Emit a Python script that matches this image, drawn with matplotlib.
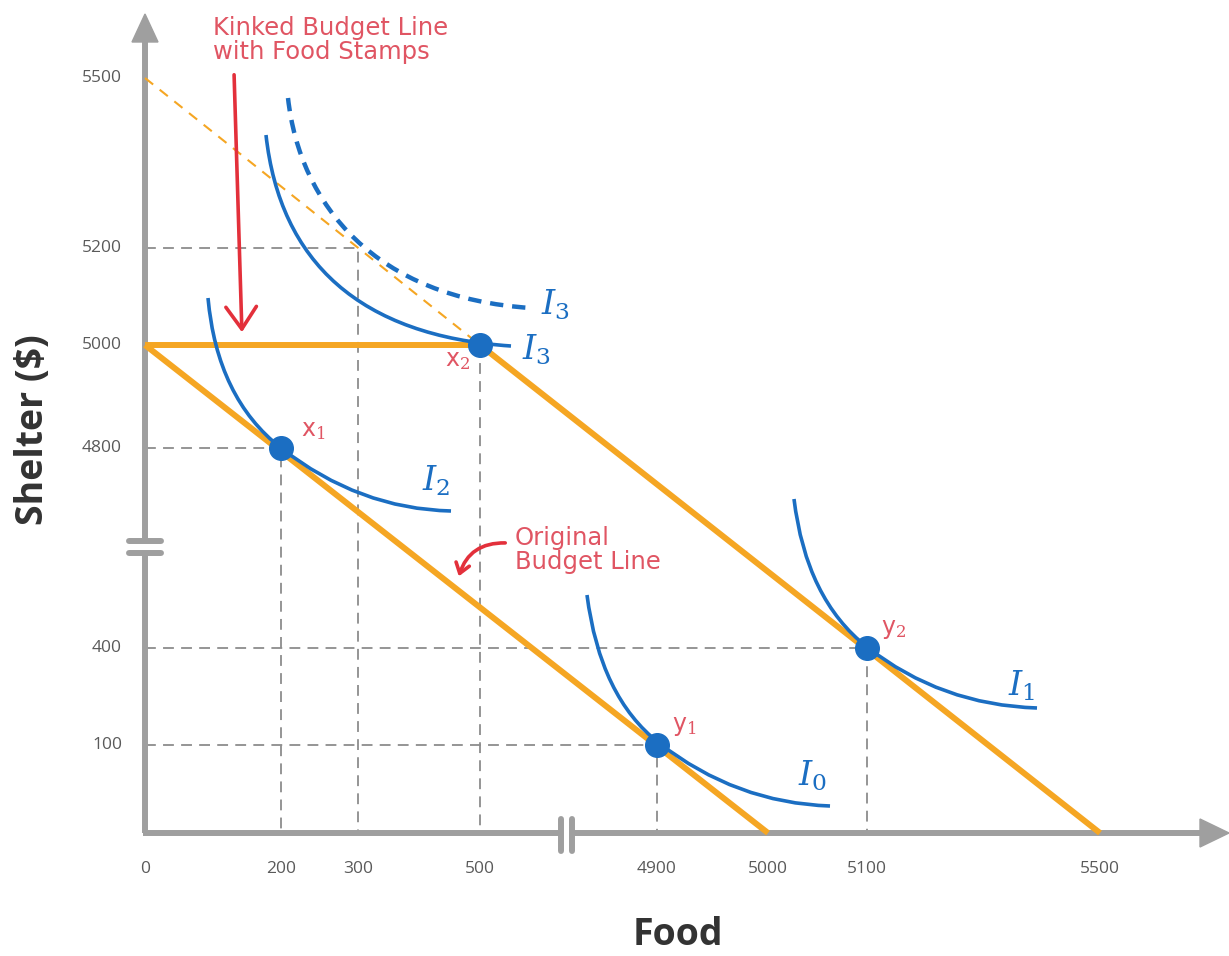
import matplotlib.pyplot as plt
from matplotlib.path import Path
from matplotlib.patches import PathPatch, Polygon

# axis values (schematic, broken axes)
food_ticks = [0, 200, 300, 500, 4900, 5000, 5100, 5500]
shelter_ticks = [0, 100, 400, 4800, 5000, 5200, 5500]
shelter_labels = ["", "100", "400", "4800", "5000", "5200", "5500"]

# where each tick value sits on the drawing
food_pos = [145, 281, 358, 480, 657, 768, 867, 1100]
shelter_pos = [833, 745, 648, 448, 345, 248, 78]

# budget lines (food, shelter)
original_line = [(0, 5000), (5000, 0)]
kinked_line = [(0, 5000), (500, 5000), (5500, 0)]
old_extension = [(0, 5500), (500, 5000)]

# optimal bundles
bundles = {"x$_1$": (200, 4800), "x$_2$": (500, 5000), "y$_1$": (4900, 100), "y$_2$": (5100, 400)}
guide_pts = [(200, 4800), (300, 5200), (4900, 100), (5100, 400)]

# colours
orange = "#F5A623"
blue = "#1B6EC2"
grey = "#9F9F9F"
red_txt = "#E05563"
red_arr = "#E3303B"

plt.rcParams["mathtext.fontset"] = "dejavuserif"


def fx(v):
    return food_pos[food_ticks.index(v)]


def fy(v):
    return shelter_pos[shelter_ticks.index(v)]


fig = plt.figure(figsize=(12.29, 9.56), dpi=100)
ax = fig.add_axes([0, 0, 1, 1])
ax.set_xlim(0, 1229)
ax.set_ylim(956, 0)
ax.axis("off")

x0, y0 = fx(0), fy(0)

# axes with breaks
ax.plot([x0, x0], [y0, 554], color=grey, lw=4.3, solid_capstyle="butt", zorder=2)
ax.plot([x0, x0], [540, 38], color=grey, lw=4.3, solid_capstyle="butt", zorder=2)
ax.plot([x0 - 2, 561], [y0, y0], color=grey, lw=4.3, solid_capstyle="butt", zorder=2)
ax.plot([572, 1204], [y0, y0], color=grey, lw=4.3, solid_capstyle="butt", zorder=2)
for yb in [541, 553]:
    ax.plot([129, 161], [yb, yb], color=grey, lw=4.3, solid_capstyle="round", zorder=2)
for xb in [561, 572]:
    ax.plot([xb, xb], [819, 851], color=grey, lw=4.3, solid_capstyle="round", zorder=2)
ax.add_patch(Polygon([[x0 - 13, 42], [x0 + 13, 42], [x0, 14]], closed=True, color=grey, zorder=2))
ax.add_patch(Polygon([[1200, y0 - 14], [1200, y0 + 14], [1229, y0]], closed=True, color=grey, zorder=2))

# tick labels
for v, p in zip(food_ticks, food_pos):
    ax.text(p, 869, str(v), ha="center", va="center", fontsize=12.5, color="#5A5A5A", family="Open Sans")
for lab, p in zip(shelter_labels, shelter_pos):
    if lab:
        ax.text(122, p, lab, ha="right", va="center", fontsize=12.5, color="#5A5A5A", family="Open Sans")

ax.text(678, 935, "Food", ha="center", va="center", fontsize=27, fontweight="bold", color="#333333", family="Open Sans")
ax.text(33, 430, "Shelter ($)", ha="center", va="center", rotation=90, fontsize=27, fontweight="bold", color="#333333", family="Open Sans")

# dashed guides
for fv, sv in guide_pts:
    ax.plot([x0, fx(fv), fx(fv)], [fy(sv), fy(sv), y0], color="#8C8C8C", lw=1.3, ls=(0, (6, 4)), zorder=1)
ax.plot([fx(500), fx(500)], [fy(5000), y0], color="#8C8C8C", lw=1.3, ls=(0, (6, 4)), zorder=1)

# budget lines
for line in [original_line, kinked_line]:
    ax.plot([fx(a) for a, b in line], [fy(b) for a, b in line], color=orange, lw=4.3, zorder=3,
            solid_capstyle="butt")
ax.plot([fx(a) for a, b in old_extension], [fy(b) for a, b in old_extension], color=orange, lw=1.5,
        ls=(0, (5, 4)), zorder=3)

# indifference curves (bezier control points on the drawing)
curves = {
    "I2": [(208, 298), (217, 398), (281, 448), (359, 509), (451, 511)],
    "I0": [(587, 595), (600, 697), (659, 743), (736, 803), (830, 806)],
    "I1": [(794, 499), (806, 599), (867, 647), (941, 705), (1037, 708)],
}
for pts in curves.values():
    codes = [Path.MOVETO, Path.CURVE3, Path.CURVE3, Path.CURVE3, Path.CURVE3]
    ax.add_patch(PathPatch(Path(pts, codes), fill=False, ec=blue, lw=2.6, zorder=4))

i3_solid = [(266, 135), (280, 262), (360, 336), (511, 346)]
i3_dash = [(288, 98), (300, 205), (375, 298), (531, 308)]
c4 = [Path.MOVETO, Path.CURVE4, Path.CURVE4, Path.CURVE4]
ax.add_patch(PathPatch(Path(i3_solid, c4), fill=False, ec=blue, lw=2.6, zorder=4))
ax.add_patch(PathPatch(Path(i3_dash, c4), fill=False, ec=blue, lw=3.2, ls=(0, (3, 2)), zorder=4))

# curve labels
for lab, tx, ty in [("$I_3$", 555, 305), ("$I_3$", 536, 350), ("$I_2$", 436, 481),
                    ("$I_1$", 1022, 686), ("$I_0$", 813, 776)]:
    ax.text(tx, ty, lab, ha="center", va="center", fontsize=24, color=blue)

# bundles
for lab, (fv, sv) in bundles.items():
    ax.plot(fx(fv), fy(sv), "o", ms=17, color=blue, zorder=6)
offsets = {"x$_1$": (32, -18), "x$_2$": (-22, 15), "y$_1$": (27, -19), "y$_2$": (27, -19)}
for lab, (fv, sv) in bundles.items():
    dx, dy = offsets[lab]
    ax.text(fx(fv) + dx, fy(sv) + dy, lab, ha="center", va="center", fontsize=17, color=red_txt)

# annotations
ax.text(213, 16, "Kinked Budget Line\nwith Food Stamps", ha="left", va="top", fontsize=17.5,
        color=red_txt, family="DejaVu Sans", linespacing=1.0)
ax.annotate("", xy=(242, 335), xytext=(234, 72),
            arrowprops=dict(arrowstyle="->,head_length=1.6,head_width=1.1", color=red_arr, lw=2.6))
ax.text(515, 526, "Original\nBudget Line", ha="left", va="top", fontsize=17.5,
        color=red_txt, family="DejaVu Sans", linespacing=1.0)
ax.annotate("", xy=(458, 579), xytext=(508, 543),
            arrowprops=dict(arrowstyle="->,head_length=0.7,head_width=0.5", color=red_arr, lw=2.6,
                            connectionstyle="arc3,rad=0.4"))

fig.savefig("out.png", dpi=100, facecolor="white")
